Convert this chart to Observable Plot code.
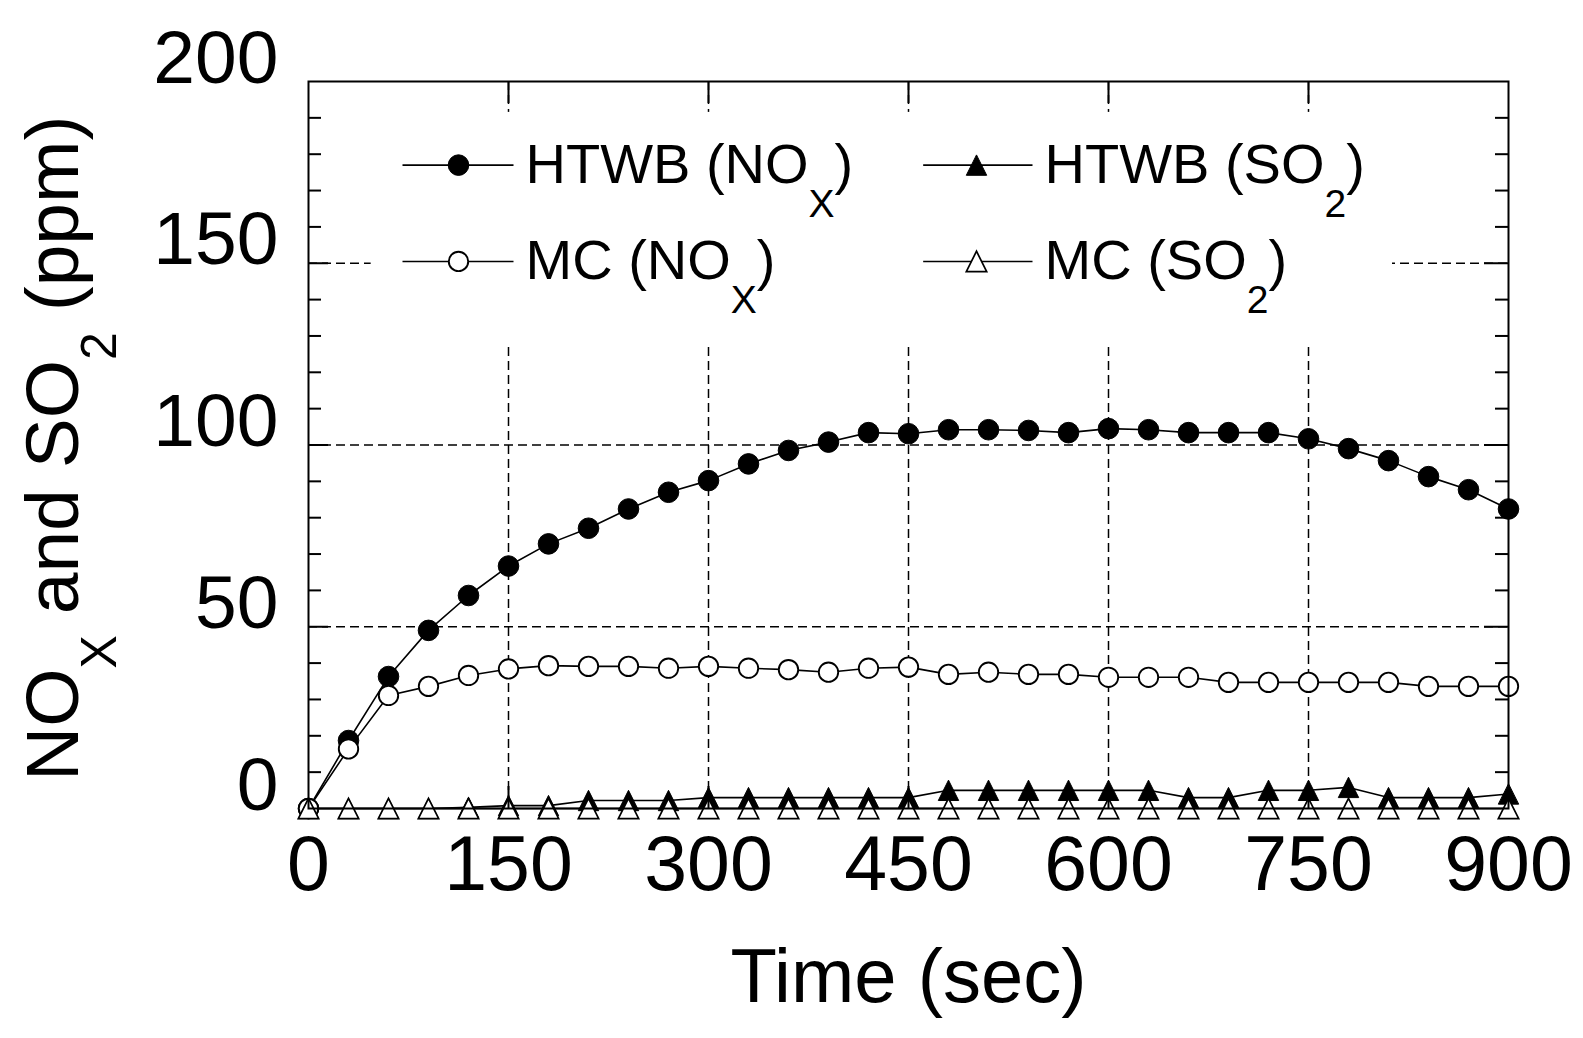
<!DOCTYPE html>
<html>
<head>
<meta charset="utf-8">
<script src="https://cdn.jsdelivr.net/npm/d3@7"></script>
<script src="https://cdn.jsdelivr.net/npm/@observablehq/plot@0.6"></script>
<style>
  html, body { margin: 0; padding: 0; background: #fff; overflow: hidden; }
  text { white-space: pre; }
</style>
</head>
<body>
<div id="chart"></div>
<script>
// ---- data ----
const time = [0, 30, 60, 90, 120, 150, 180, 210, 240, 270, 300, 330, 360, 390, 420, 450,
              480, 510, 540, 570, 600, 630, 660, 690, 720, 750, 780, 810, 840, 870, 900];
const htwbNOx = [0, 18.7, 36.3, 49.0, 58.6, 66.7, 72.8, 77.1, 82.4, 87.0, 90.2, 94.8, 98.5, 100.8, 103.4, 103.1,
                 104.2, 104.2, 104.0, 103.4, 104.5, 104.2, 103.4, 103.4, 103.4, 101.7, 99.0, 95.7, 91.3, 87.7, 82.4];
const mcNOx = [0, 16.4, 31.1, 33.6, 36.6, 38.4, 39.3, 39.1, 39.1, 38.6, 39.1, 38.6, 38.2, 37.5, 38.6, 38.9,
               36.9, 37.5, 36.9, 36.9, 36.1, 36.1, 36.1, 34.7, 34.7, 34.7, 34.7, 34.7, 33.6, 33.6, 33.6];
const htwbSO2 = [0, 0, 0, 0, 0.3, 0.8, 0.8, 2.2, 2.2, 2.2, 3, 3, 3, 3, 3, 3,
                 5, 5, 5, 5, 5, 5, 3, 3, 5, 5, 5.8, 3, 3, 3, 4];
const mcSO2 = [0, 0, 0, 0, 0, 0, 0, 0, 0, 0, 0, 0, 0, 0, 0, 0,
               0, 0, 0, 0, 0, 0, 0, 0, 0, 0, 0, 0, 0, 0, 0];
const seriesNames = ["HTWB (NO_X)", "MC (NO_X)", "HTWB (SO_2)", "MC (SO_2)"];
const xTicks = [0, 150, 300, 450, 600, 750, 900];
const yTicks = [0, 50, 100, 150, 200];
const xGrid = [150, 300, 450, 600, 750];
const yGrid = [50, 100, 150];
const yMinorTicks = [10, 20, 30, 40, 60, 70, 80, 90, 110, 120, 130, 140, 160, 170, 180, 190];
const xLabel = "Time (sec)";

// ---- layout ----
const W = 1583, H = 1038;
const mL = 308, mR = 75, mT = 81, mB = 230;
const plotW = W - mL - mR, plotH = H - mT - mB;
const font = "'Liberation Sans', Arial, Helvetica, sans-serif";

const seriesValues = [htwbNOx, mcNOx, htwbSO2, mcSO2];
const rows = seriesNames.flatMap((name, i) => time.map((t, j) => ({t, v: seriesValues[i][j], series: name})));
const bySeries = name => rows.filter(d => d.series === name);

const triangleSymbol = {
  draw(ctx, size) {
    const h = Math.sqrt(size) / 2;
    ctx.moveTo(0, -h); ctx.lineTo(h, h); ctx.lineTo(-h, h); ctx.closePath();
  }
};
const markerStyle = {
  "HTWB (NO_X)": {symbol: "circle", r: 10.3, fill: "black", stroke: "black", strokeWidth: 1},
  "MC (NO_X)": {symbol: "circle", r: 9.7, fill: "white", stroke: "black", strokeWidth: 1.9},
  "HTWB (SO_2)": {symbol: triangleSymbol, r: 11.5, fill: "black", stroke: "black", strokeWidth: 1},
  "MC (SO_2)": {symbol: triangleSymbol, r: 11.5, fill: "white", stroke: "black", strokeWidth: 1.7}
};

// legend anchored in data space (x in sec, y in ppm)
const legendBox = {x1: 47, x2: 813, y1: 128, y2: 191.5};
const legendCols = [{l1: 70.5, l2: 153.75, m: 112.5, tx: 162.75}, {l1: 461, l2: 543, m: 501, tx: 552}];
const legendRows = [177, 150.5];
const legendOrder = [["HTWB (NO_X)", 0, 0], ["HTWB (SO_2)", 1, 0], ["MC (NO_X)", 0, 1], ["MC (SO_2)", 1, 1]];
const legendEntries = legendOrder.map(([name, c, r]) => ({
  name, x1: legendCols[c].l1, x2: legendCols[c].l2, xm: legendCols[c].m, tx: legendCols[c].tx, y: legendRows[r]
}));

const marks = [
  Plot.ruleX(xGrid, {stroke: "black", strokeWidth: 1.5, strokeDasharray: "9,5"}),
  Plot.ruleY(yGrid, {stroke: "black", strokeWidth: 1.5, strokeDasharray: "9,5"}),
  Plot.rect([legendBox], {x1: "x1", x2: "x2", y1: "y1", y2: "y2", fill: "white"}),
  Plot.line(rows, {x: "t", y: "v", z: "series", stroke: "black", strokeWidth: 1.6}),
  ...seriesNames.map(name => Plot.dot(bySeries(name), {x: "t", y: "v", ...markerStyle[name]})),
  // inward ticks
  Plot.ruleY(yMinorTicks, {stroke: "black", strokeWidth: 2, insetRight: plotW - 13}),
  Plot.ruleY(yMinorTicks, {stroke: "black", strokeWidth: 2, insetLeft: plotW - 13}),
  Plot.ruleY(yGrid, {stroke: "black", strokeWidth: 2, insetRight: plotW - 20}),
  Plot.ruleY(yGrid, {stroke: "black", strokeWidth: 2, insetLeft: plotW - 24}),
  Plot.ruleX(xGrid, {stroke: "black", strokeWidth: 2, insetBottom: plotH - 22}),
  Plot.ruleX(xGrid, {stroke: "black", strokeWidth: 2, insetTop: plotH - 22}),
  Plot.frame({stroke: "black", strokeWidth: 2}),
  Plot.axisX(xTicks, {tickSize: 0, tickPadding: 27, fontSize: 77, label: null, tickFormat: d => String(d)}),
  Plot.axisY(yTicks, {tickSize: 0, tickPadding: 30, fontSize: 75, dy: -23, label: null, tickFormat: d => String(d)}),
  Plot.text([xLabel], {frameAnchor: "bottom", lineAnchor: "middle", dy: 169, fontSize: 76, fill: "black"}),
  // legend
  Plot.link(legendEntries, {x1: "x1", x2: "x2", y1: "y", y2: "y", stroke: "black", strokeWidth: 1.6}),
  ...legendEntries.map(e => Plot.dot([e], {x: "xm", y: "y", ...markerStyle[e.name]})),
  Plot.text(legendEntries, {x: "tx", y: "y", text: "name", textAnchor: "start", lineAnchor: "middle", fontSize: 56, fill: "black"})
];

const plot = Plot.plot({
  width: W, height: H,
  marginLeft: mL, marginRight: mR, marginTop: mT, marginBottom: mB,
  style: {fontFamily: font, background: "white", color: "black", overflow: "visible"},
  x: {domain: [0, 900]},
  y: {domain: [0, 200]},
  marks
});
document.getElementById("chart").appendChild(plot);

// subscripts: "A_B rest" -> A, subscript B, rest
function applySub(el, subSize, shift) {
  const s = el.textContent;
  const m = s.match(/^(.*)_(.)(.*)$/);
  if (!m) return;
  const t = d3.select(el);
  t.text(null);
  t.append("tspan").text(m[1]);
  t.append("tspan").attr("font-size", subSize).attr("dy", shift).text(m[2]);
  t.append("tspan").attr("dy", -shift).text(m[3]);
}
d3.select(plot).selectAll("text").each(function() {
  if (this.textContent.includes("_")) applySub(this, 39, 34);
});

// y-axis title, rotated, with subscripts
const yt = d3.select(plot).append("text")
  .attr("transform", "translate(78,781) rotate(-90)")
  .attr("font-family", font)
  .attr("font-size", 75)
  .attr("fill", "black")
  .attr("text-anchor", "start");
yt.append("tspan").text("NO");
yt.append("tspan").attr("font-size", 50).attr("dy", 38).text("X");
yt.append("tspan").attr("dy", -38).text(" and SO");
yt.append("tspan").attr("font-size", 50).attr("dy", 38).text("2");
yt.append("tspan").attr("dy", -38).text(" (ppm)");
</script>
</body>
</html>
